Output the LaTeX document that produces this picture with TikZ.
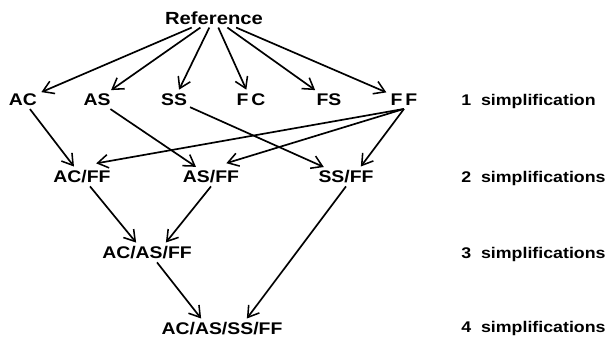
\documentclass[tikz,border=0pt]{standalone}
\usepackage{fontspec}
\setmainfont{Liberation Sans}[FakeStretch=1.15]
\usepackage{tikz}
\usetikzlibrary{arrows.meta, positioning, calc}

\tikzset{
  lbl/.style={font=\bfseries\fontsize{12}{14}\selectfont, inner sep=2pt},
  lvl/.style={font=\bfseries\fontsize{11}{13}\selectfont, anchor=west, inner sep=0pt},
  arr/.style={-{Straight Barb[length=7.5pt,width=9.5pt,line width=1.1pt]}, line width=1.2pt, shorten >=1pt}
}

\begin{document}
\begin{tikzpicture}[x=0.025cm, y=-0.025cm]
  \useasboundingbox (0,0) rectangle (610,344);

  % --- Top node ---
  \node[lbl, font=\bfseries\fontsize{12.5}{14}\selectfont] (ref) at (214,18) {Reference};

  % --- Row 1: single simplifications ---
  \node[lbl] (ac) at (23,100) {AC};
  \node[lbl] (as) at (97,100) {AS};
  \node[lbl] (ss) at (174,100) {SS};
  \node[lbl] (fc) at (251,100) {F\,C};
  \node[lbl] (fs) at (329,100) {FS};
  \node[lbl] (ff) at (404,100) {F\,F};

  % --- Row 2 ---
  \node[lbl] (acff) at (82,177) {AC/FF};
  \node[lbl] (asff) at (211,177) {AS/FF};
  \node[lbl] (ssff) at (346,177) {SS/FF};

  % --- Row 3 and 4 ---
  \node[lbl] (acasff) at (147,253) {AC/AS/FF};
  \node[lbl] (acasssff) at (222,329) {AC/AS/SS/FF};

  % --- Level labels ---
  \node[lvl] (lv1) at (461,101) {1\ \ simplification};
  \node[lvl] (lv2) at (461,178) {2\ \ simplifications};
  \node[lvl] (lv3) at (461,254) {3\ \ simplifications};
  \node[lvl] (lv4) at (461,328) {4\ \ simplifications};

  % Reference to row 1
  \draw[arr] (ref) -- (ac);
  \draw[arr] (ref) -- (as);
  \draw[arr] (ref) -- (ss);
  \draw[arr] (ref) -- (fc);
  \draw[arr] (ref) -- (fs);
  \draw[arr] (ref) -- (ff);

  % Row 1 to row 2
  \draw[arr] (ac) -- (acff);
  \draw[arr] (as) -- (asff);
  \draw[arr] (ss) -- (ssff);
  \draw[arr] (ff.south) -- ([xshift=3.2mm,yshift=1mm]acff.north);
  \draw[arr] (ff.south) -- ([xshift=3.5mm,yshift=1mm]asff.north);
  \draw[arr] (ff.south) -- ([xshift=3.5mm]ssff.north);

  % Row 2 to row 3 and 4
  \draw[arr] ([xshift=2mm]acff.south) -- ([xshift=-2.5mm]acasff.north);
  \draw[arr] (asff.south) -- ([xshift=4.5mm]acasff.north);
  \draw[arr] ([xshift=2.5mm]acasff.south) -- ([xshift=-5mm]acasssff.north);
  \draw[arr] (ssff.south) -- ([xshift=6mm]acasssff.north);
\end{tikzpicture}
\end{document}
